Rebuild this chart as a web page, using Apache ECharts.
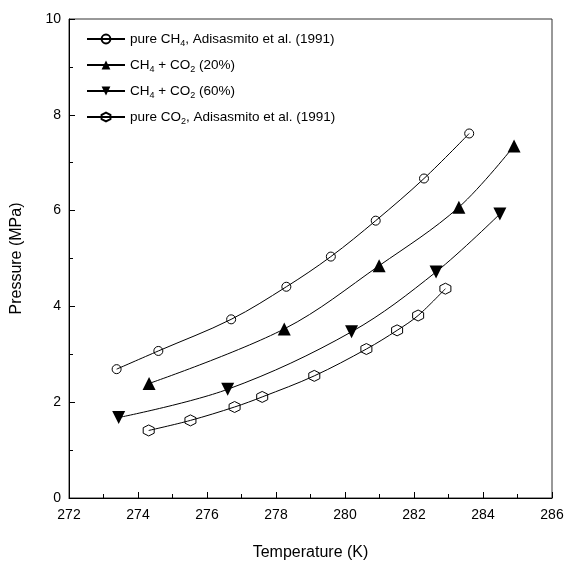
<!DOCTYPE html>
<html>
<head>
<meta charset="utf-8">
<script src="https://cdn.jsdelivr.net/npm/echarts@6/dist/echarts.min.js"></script>
<style>
  html, body { margin: 0; padding: 0; background: #fff; }
  #chart { width: 567px; height: 562px; }
</style>
</head>
<body>
<div id="chart"></div>
<script>
// temperature (K) / pressure (MPa)
var ch4T = [273.38, 274.59, 276.70, 278.30, 279.59, 280.89, 282.29, 283.60];
var ch4P = [2.69, 3.07, 3.73, 4.41, 5.04, 5.79, 6.67, 7.61];

var mix20T = [274.32, 278.24, 280.99, 283.30, 284.90];
var mix20P = [2.39, 3.53, 4.85, 6.07, 7.35];

var mix60T = [273.44, 276.60, 280.19, 282.64, 284.49];
var mix60P = [1.68, 2.27, 3.47, 4.72, 5.93];

var co2T = [274.31, 275.52, 276.80, 277.60, 279.11, 280.62, 281.51, 282.12, 282.91];
var co2P = [1.41, 1.62, 1.90, 2.11, 2.55, 3.11, 3.50, 3.81, 4.37];

var seriesNames = ['pure CH4', 'CH4 + CO2 (20%)', 'CH4 + CO2 (60%)', 'pure CO2'];

var hexagon = 'path://M0,-1 L0.866,-0.5 L0.866,0.5 L0,1 L-0.866,0.5 L-0.866,-0.5 Z';

function pairs(xs, ys) {
    var out = [];
    for (var i = 0; i < xs.length; i++) out.push([xs[i], ys[i]]);
    return out;
}

var legendText = {
    'pure CH4': '{a|pure CH}{s|4}{a|, Adisasmito et al. (1991)}',
    'CH4 + CO2 (20%)': '{a|CH}{s|4}{a| + CO}{s|2}{a| (20%)}',
    'CH4 + CO2 (60%)': '{a|CH}{s|4}{a| + CO}{s|2}{a| (60%)}',
    'pure CO2': '{a|pure CO}{s|2}{a|, Adisasmito et al. (1991)}'
};

function mkSeries(name, data, symbol, size, filled, rotate) {
    return {
        name: name,
        type: 'line',
        data: data,
        smooth: 0.35,
        symbol: symbol,
        symbolSize: size,
        symbolRotate: rotate || 0,
        showAllSymbol: true,
        lineStyle: { color: '#000', width: 1 },
        itemStyle: filled
            ? { color: '#000', borderColor: '#000', borderWidth: 0 }
            : { color: 'rgba(0,0,0,0)', borderColor: '#000', borderWidth: 1 },
        emphasis: { disabled: true }
    };
}

var chart = echarts.init(document.getElementById('chart'), null, { renderer: 'canvas' });

chart.setOption({
    animation: false,
    grid: {
        left: 69, right: 15, top: 19, bottom: 64,
        outerBoundsMode: 'none',
        show: true, borderColor: '#333', borderWidth: 1
    },
    legend: {
        left: 81, top: 25,
        orient: 'vertical',
        itemWidth: 38, itemHeight: 11, itemGap: 8,
        data: seriesNames,
        formatter: function (n) { return legendText[n]; },
        textStyle: {
            rich: {
                a: { fontFamily: 'Liberation Sans', fontSize: 13.5, color: '#000', lineHeight: 16 },
                s: { fontFamily: 'Liberation Sans', fontSize: 9, color: '#000', lineHeight: 16, padding: [9, 0, 0, 0] }
            }
        }
    },
    xAxis: {
        type: 'value', min: 272, max: 286, interval: 2,
        name: 'Temperature (K)', nameLocation: 'middle', nameGap: 47,
        nameTextStyle: { fontFamily: 'Liberation Sans', fontSize: 16, color: '#000' },
        axisLine: { lineStyle: { color: '#000', width: 1 } },
        axisTick: { inside: true, length: 6, lineStyle: { color: '#000' } },
        minorTick: { show: true, splitNumber: 2, length: 4, lineStyle: { color: '#000' } },
        axisLabel: { fontFamily: 'Liberation Sans', fontSize: 14, color: '#000', margin: 10 },
        splitLine: { show: false }
    },
    yAxis: {
        type: 'value', min: 0, max: 10, interval: 2,
        name: 'Pressure (MPa)', nameLocation: 'middle', nameGap: 44,
        nameTextStyle: { fontFamily: 'Liberation Sans', fontSize: 16, color: '#000' },
        axisLine: { show: true, lineStyle: { color: '#000', width: 1 } },
        axisTick: { show: true, inside: true, length: 6, lineStyle: { color: '#000' } },
        minorTick: { show: true, splitNumber: 2, length: 4, lineStyle: { color: '#000' } },
        axisLabel: { fontFamily: 'Liberation Sans', fontSize: 14, color: '#000', margin: 8 },
        splitLine: { show: false }
    },
    series: [
        mkSeries(seriesNames[0], pairs(ch4T, ch4P), 'circle', 9, false),
        mkSeries(seriesNames[1], pairs(mix20T, mix20P), 'triangle', 13, true),
        mkSeries(seriesNames[2], pairs(mix60T, mix60P), 'triangle', 13, true, 180),
        mkSeries(seriesNames[3], pairs(co2T, co2P), hexagon, 11, false)
    ]
});
</script>
</body>
</html>
